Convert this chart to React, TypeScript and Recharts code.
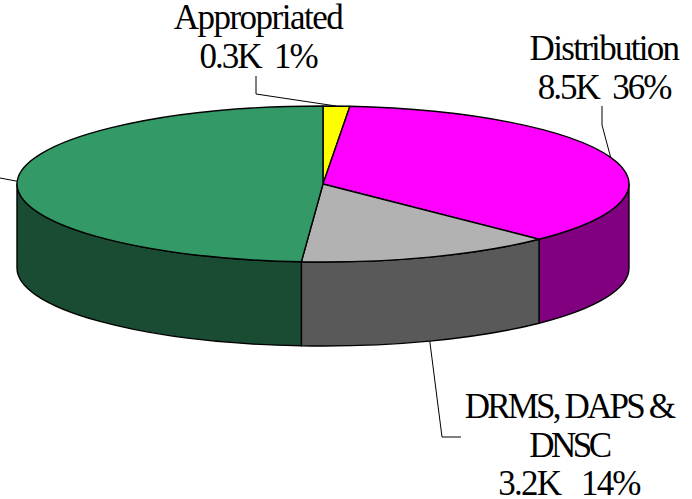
import { PieChart, Pie } from "recharts";

const names = ["Appropriated", "Distribution", "DRMS, DAPS & DNSC", "Other"];
const values = [0.33, 8.5, 3.2, 11.5];
const topColors = ["#FFFF00", "#FF00FF", "#B2B2B2", "#339966"];
const wallColors = ["#808000", "#800080", "#595959", "#1A4C33"];

const data = names.map((name, i) => ({
  name,
  value: values[i],
  fill: topColors[i],
  wall: wallColors[i],
}));

const TILT = 0.2549;
const DEPTH = 84;
const RAD = Math.PI / 180;

// text lines and leader line bends for each slice label
const labelLayout = [
  {
    lines: ["Appropriated", "0.3K  1%"],
    spacing: [-1.5, -2],
    x: 258,
    y: 29,
    path: [[256, 94], [256, 76]],
    onWall: false,
  },
  {
    lines: ["Distribution", "8.5K  36%"],
    spacing: [-1.7, -2],
    x: 604,
    y: 60,
    path: [[602, 125], [602, 106]],
    onWall: false,
  },
  {
    lines: ["DRMS, DAPS &", "DNSC", "3.2K   14%"],
    spacing: [-2.8, -3.5, -1.8],
    x: 569,
    y: 418,
    path: [[442, 437], [461, 437]],
    onWall: true,
  },
  { lines: [], spacing: [], x: 0, y: 0, path: [[0, 178]], onWall: false },
];

function ellipsePoint(cx: number, cy: number, rx: number, angle: number) {
  return {
    x: cx + rx * Math.cos(angle * RAD),
    y: cy - rx * TILT * Math.sin(angle * RAD),
  };
}

// flattened sector plus the visible part of its side wall
function TiltedSlice(props: any) {
  const { cx, cy, outerRadius: rx, startAngle, endAngle, fill, wall } = props;
  const ry = rx * TILT;
  const a = ellipsePoint(cx, cy, rx, startAngle);
  const b = ellipsePoint(cx, cy, rx, endAngle);
  const large = Math.abs(startAngle - endAngle) > 180 ? 1 : 0;
  const from = Math.min(startAngle, 0);
  const to = Math.max(endAngle, -180);
  let wallPath = "";
  if (from > to) {
    const p = ellipsePoint(cx, cy, rx, from);
    const q = ellipsePoint(cx, cy, rx, to);
    wallPath =
      `M${p.x},${p.y} A${rx},${ry} 0 0 1 ${q.x},${q.y} ` +
      `L${q.x},${q.y + DEPTH} A${rx},${ry} 0 0 0 ${p.x},${p.y + DEPTH} Z`;
  }
  return (
    <g>
      {wallPath && (
        <path d={wallPath} fill={wall} stroke="#000" strokeWidth={1.4} strokeLinejoin="round" />
      )}
      <path
        d={`M${cx},${cy} L${a.x},${a.y} A${rx},${ry} 0 ${large} 1 ${b.x},${b.y} Z`}
        fill={fill}
        stroke="#000"
        strokeWidth={1.4}
        strokeLinejoin="round"
      />
    </g>
  );
}

function SliceLabel(props: any) {
  const { cx, cy, outerRadius, midAngle, index } = props;
  const layout = labelLayout[index];
  const start = ellipsePoint(cx, cy, outerRadius, midAngle);
  const startY = layout.onWall ? start.y + DEPTH : start.y;
  const points = [[start.x, startY], ...layout.path].map((p) => p.join(",")).join(" ");
  return (
    <g>
      <polyline points={points} fill="none" stroke="#000" strokeWidth={1} />
      <text
        x={layout.x}
        y={layout.y}
        textAnchor="middle"
        fontFamily="'Liberation Serif', serif"
        fontSize={35}
        fill="#000"
        style={{ whiteSpace: "pre" }}
      >
        {layout.lines.map((line, i) => (
          <tspan
            key={line}
            x={layout.x}
            dy={i === 0 ? 0 : i === 2 ? 38 : 39}
            letterSpacing={layout.spacing[i]}
          >
            {line}
          </tspan>
        ))}
      </text>
    </g>
  );
}

export default function App() {
  return (
    <div style={{ position: "absolute", left: 0, top: 0, width: 692, height: 499, background: "#fff", overflow: "hidden" }}>
      <PieChart width={692} height={499} margin={{ top: 0, right: 0, bottom: 0, left: 0 }}>
        <Pie
          data={data}
          dataKey="value"
          nameKey="name"
          cx={323}
          cy={184}
          innerRadius={0}
          outerRadius={306}
          startAngle={90}
          endAngle={-270}
          stroke="#000"
          shape={TiltedSlice}
          label={SliceLabel}
          labelLine={false}
          isAnimationActive={false}
        />
      </PieChart>
    </div>
  );
}
